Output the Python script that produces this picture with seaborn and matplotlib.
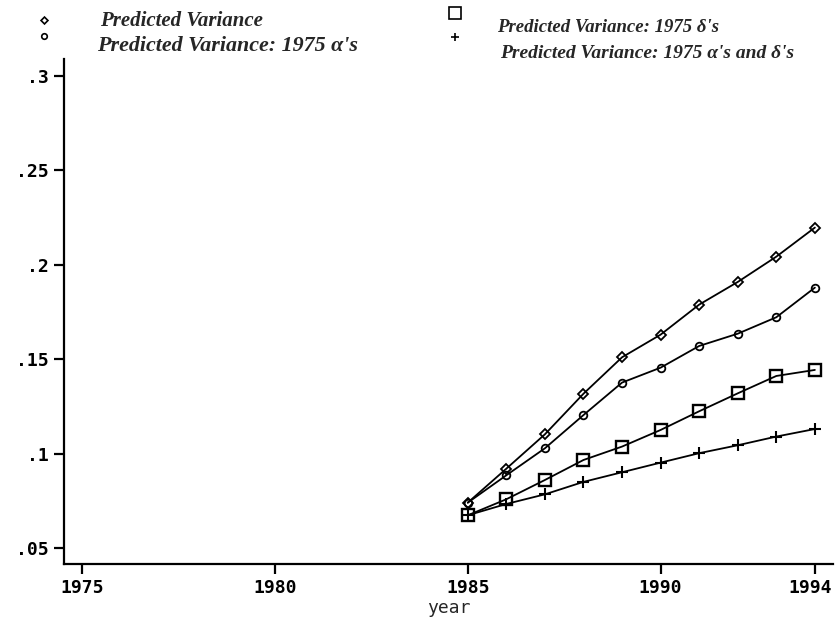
import matplotlib
matplotlib.use("Agg")
import matplotlib.pyplot as plt
from matplotlib.lines import Line2D
from matplotlib.ticker import FuncFormatter
from matplotlib.transforms import ScaledTranslation
import seaborn as sns
import pandas as pd

years = [1985, 1986, 1987, 1988, 1989, 1990, 1991, 1992, 1993, 1994]
pred_var = [0.0740, 0.0920, 0.1102, 0.1317, 0.1510, 0.1630, 0.1789, 0.1909, 0.2043, 0.2197]
pred_var_a = [0.0740, 0.0885, 0.1028, 0.1204, 0.1376, 0.1455, 0.1570, 0.1635, 0.1722, 0.1879]
pred_var_d = [0.0673, 0.0758, 0.0860, 0.0966, 0.1037, 0.1125, 0.1224, 0.1319, 0.1411, 0.1443]
pred_var_ad = [0.0673, 0.0733, 0.0784, 0.0850, 0.0901, 0.0952, 0.1002, 0.1044, 0.1090, 0.1130]

labels = ["Predicted Variance",
          "Predicted Variance: 1975 \u03b1's",
          "Predicted Variance: 1975 \u03b4's",
          "Predicted Variance: 1975 \u03b1's and \u03b4's"]
xticks = [1975, 1980, 1985, 1990, 1994]
yticks = [0.05, 0.1, 0.15, 0.2, 0.25, 0.3]

sns.set_theme(style="white")
plt.rcParams['font.family'] = ['DejaVu Sans Mono', 'DejaVu Sans']

W, H = 835, 623
fig = plt.figure(figsize=(W / 100, H / 100), dpi=100)
ax = fig.add_axes([64 / W, 1 - 564 / H, (833 - 64) / W, (564 - 59) / H])

styles = [
    dict(marker="D", markersize=5, markeredgewidth=1.3),
    dict(marker="o", markersize=5.5, markeredgewidth=1.3),
    dict(marker="s", markersize=9, markeredgewidth=1.7),
    dict(marker="+", markersize=8, markeredgewidth=1.5),
]
series = [pred_var, pred_var_a, pred_var_d, pred_var_ad]
for vals, st in zip(series, styles):
    df = pd.DataFrame({"year": years, "value": vals})
    sns.lineplot(data=df, x="year", y="value", ax=ax, color="black",
                 linewidth=1.3, markerfacecolor="none", markeredgecolor="black",
                 legend=False, **st)

ax.set_xlim(1974.53, 1994.47)
ax.set_ylim(0.0415, 0.309)
ax.set_xticks(xticks)
ax.set_yticks(yticks)
ax.yaxis.set_major_formatter(FuncFormatter(lambda v, p: f"{v:g}".lstrip("0")))
ax.set_xlabel("year", fontsize=13, labelpad=1)
ax.set_ylabel("")
for s in ["top", "right"]:
    ax.spines[s].set_visible(False)
for s in ["left", "bottom"]:
    ax.spines[s].set_color("black")
    ax.spines[s].set_linewidth(1.6)
ax.tick_params(axis="both", direction="out", length=7, width=1.6, color="black",
               labelsize=13, labelcolor="black", bottom=True, left=True, pad=4)
for lab in ax.get_xticklabels() + ax.get_yticklabels():
    lab.set_fontweight("bold")
last = ax.get_xticklabels()[-1]
last.set_transform(last.get_transform() + ScaledTranslation(-5 / 100, 0, fig.dpi_scale_trans))

# legend (drawn by hand in figure pixel coordinates)
def fx(px):
    return px / W

def fy(py):
    return 1 - py / H

leg_items = [
    (44, 20, "D", 3.5, 100, 21, 15),
    (44, 36, "o", 4, 97, 46, 15.8),
    (455, 13, "s", 8, 497, 28, 13.5),
    (455, 37, "+", 6, 500, 53, 14),
]
for (mx, my, mk, ms, tx, ty, fs), lab in zip(leg_items, labels):
    fig.add_artist(Line2D([fx(mx)], [fy(my)], marker=mk, markersize=ms,
                          markerfacecolor="none", markeredgecolor="black",
                          markeredgewidth=1.2, linestyle="none",
                          transform=fig.transFigure))
    fig.text(fx(tx), fy(ty), lab, family=["Liberation Serif", "DejaVu Serif"],
             style="italic", weight="bold", fontsize=fs, va="center", ha="left")

fig.savefig("out.png", dpi=100)
